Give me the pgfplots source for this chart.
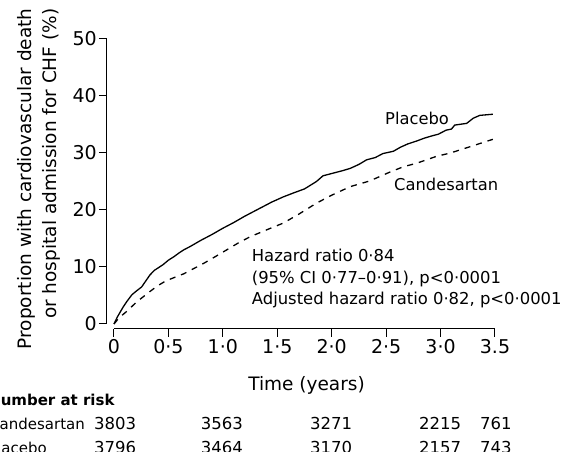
\documentclass[border=0pt]{standalone}
\usepackage{pgfplots}
\pgfplotsset{compat=1.18}
\usepackage{fontspec}
\setmainfont{DejaVu Sans}
\begin{document}
\begin{tikzpicture}
\begin{axis}[
  at={(0pt,0pt)}, anchor=south west,
  scale only axis, width=381pt, height=285pt,
  xmin=0, xmax=3.5, ymin=0, ymax=50,
  enlargelimits=false,
  axis lines=left,
  axis line style={-, line width=1pt},
  axis x line shift=5pt,
  axis y line shift=7pt,
  tick align=outside,
  major tick length=8pt,
  tick style={line width=1pt, black},
  xtick={0,0.5,1,1.5,2,2.5,3,3.5},
  xticklabels={0,0·5,1·0,1·5,2·0,2·5,3·0,3.5},
  ytick={0,10,20,30,40,50},
  yticklabels={0,10,20,30,40,50},
  tick label style={font=\fontsize{19}{22}\selectfont, inner sep=2pt},
  xlabel={Time (years)},
  xlabel style={at={(axis description cs:0.5053,-0.235)}, anchor=base, font=\fontsize{18.5}{22}\selectfont},
  ylabel={Proportion with cardiovascular death\\or hospital admission for CHF (\%)},
  ylabel style={at={(axis description cs:-0.198,0.509)}, anchor=center, rotate=0, align=right, font=\fontsize{18.5}{25}\selectfont},
  clip=false,
]
\addplot[black, line width=1.3pt] coordinates {
(0,0) (0.03,1.2) (0.06,2.2) (0.085,3.0) (0.12,4.0) (0.163,5.1) (0.2,5.7)
(0.254,6.5) (0.29,7.5) (0.33,8.6) (0.37,9.4) (0.41,9.9) (0.45,10.4)
(0.5,11.2) (0.55,11.8) (0.6,12.5) (0.64,13.0) (0.7,13.6) (0.8,14.7)
(0.9,15.7) (1.0,16.8) (1.1,17.8) (1.2,18.9) (1.25,19.4) (1.35,20.4)
(1.45,21.4) (1.555,22.3) (1.65,23.0) (1.75,23.7) (1.86,25.0) (1.92,26.0)
(2.0,26.4) (2.1,26.9) (2.17,27.3) (2.25,28.0) (2.32,28.8) (2.4,29.2)
(2.47,29.9) (2.566,30.3) (2.63,31.0) (2.7,31.6) (2.78,32.1) (2.85,32.6)
(2.92,33.0) (2.98,33.3) (3.05,34.0) (3.1,34.2) (3.13,34.9) (3.24,35.2)
(3.3,36.1) (3.36,36.6) (3.48,36.8)
};
\addplot[black, line width=1.3pt, dash pattern=on 6pt off 6pt] coordinates {
(0,0) (0.03,0.7) (0.06,1.3) (0.116,2.2) (0.16,3.0) (0.21,3.9) (0.27,4.8)
(0.33,5.7) (0.4,6.7) (0.48,7.6) (0.56,8.2) (0.64,8.8) (0.73,9.7)
(0.82,10.6) (0.92,11.7) (1.035,13.0) (1.14,14.2) (1.25,15.3) (1.4,16.5)
(1.555,17.7) (1.7,19.3) (1.86,21.2) (2.0,22.6) (2.17,24.1) (2.35,25.1)
(2.54,26.7) (2.66,27.6) (2.78,28.2) (2.96,29.4) (3.09,30.0) (3.27,31.1)
(3.48,32.4)
};
\end{axis}
% curve labels
\node[anchor=base west, font=\fontsize{16.3}{19}\selectfont, inner sep=0pt] at (271pt,199pt) {Placebo};
\node[anchor=base west, font=\fontsize{16.3}{19}\selectfont, inner sep=0pt] at (280pt,133.3pt) {Candesartan};
% annotation
\node[anchor=base west, font=\fontsize{16.4}{21.5}\selectfont, inner sep=0pt] at (137.7pt,62pt) {Hazard ratio 0·84};
\node[anchor=base west, font=\fontsize{16.4}{21.5}\selectfont, inner sep=0pt] at (137.7pt,40.5pt) {(95\% CI 0·77–0·91), p<0·0001};
\node[anchor=base west, font=\fontsize{16.4}{21.5}\selectfont, inner sep=0pt] at (137.7pt,19pt) {Adjusted hazard ratio 0·82, p<0·0001};
% number at risk table
\node[anchor=base west, font=\bfseries\fontsize{15}{18}\selectfont, inner sep=0pt] at (-126pt,-82pt) {Number at risk};
\begin{scope}[every node/.style={anchor=base west, font=\fontsize{16.5}{19}\selectfont, inner sep=0pt}]
\node[font=\fontsize{15}{18}\selectfont] at (-125pt,-106pt) {Candesartan};
\node[font=\fontsize{15}{18}\selectfont] at (-126pt,-129.5pt) {Placebo};
\node at (-20pt,-106pt) {3803};
\node at (86.7pt,-106pt) {3563};
\node at (196pt,-106pt) {3271};
\node at (305pt,-106pt) {2215};
\node at (366pt,-106pt) {761};
\node at (-20pt,-129.5pt) {3796};
\node at (86.7pt,-129.5pt) {3464};
\node at (196pt,-129.5pt) {3170};
\node at (305pt,-129.5pt) {2157};
\node at (366pt,-129.5pt) {743};
\end{scope}
\pgfresetboundingbox
\useasboundingbox (-114pt,-128pt) rectangle (449pt,324pt);
\end{tikzpicture}
\end{document}
